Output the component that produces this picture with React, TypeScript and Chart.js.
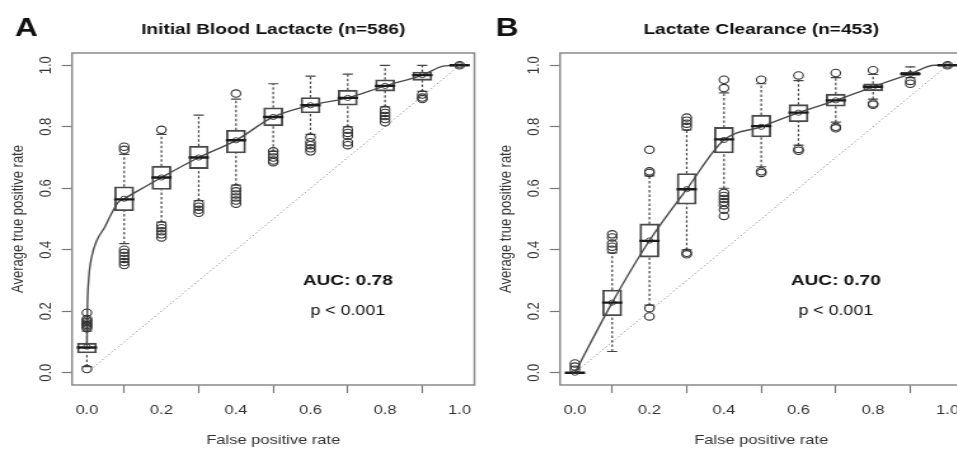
import React, { useEffect, useRef } from 'react';
import { Chart, registerables } from 'chart.js';

Chart.register(...registerables);
Chart.defaults.font.family = "'Liberation Sans', Arial, Helvetica, sans-serif";

// ---------- shared ----------
const FPR = [0, 0.1, 0.2, 0.3, 0.4, 0.5, 0.6, 0.7, 0.8, 0.9, 1.0];
const AXIS_TICKS = [0, 0.2, 0.4, 0.6, 0.8, 1.0];
const X_LABEL = 'False positive rate';
const Y_LABEL = 'Average true positive rate';

// ---------- Panel A : Initial Blood Lactate ----------
const A_LETTER = 'A';
const A_TITLE = 'Initial Blood Lactacte (n=586)';
const A_AUC = 'AUC: 0.78';
const A_P = 'p < 0.001';
const A_WHISK_LO = [0.02, 0.42, 0.49, 0.56, 0.61, 0.72, 0.775, 0.80, 0.865, 0.915, 1.0];
const A_Q1 = [0.064, 0.527, 0.596, 0.664, 0.715, 0.803, 0.845, 0.870, 0.916, 0.951, 1.0];
const A_MED = [0.082, 0.564, 0.635, 0.700, 0.756, 0.832, 0.870, 0.894, 0.933, 0.968, 1.0];
const A_Q3 = [0.096, 0.605, 0.672, 0.737, 0.789, 0.862, 0.895, 0.919, 0.953, 0.978, 1.0];
const A_WHISK_HI = [0.135, 0.71, 0.775, 0.838, 0.89, 0.94, 0.965, 0.971, 1.0, 1.0, 1.0];
const A_MEAN = [0.085, 0.566, 0.635, 0.700, 0.756, 0.832, 0.870, 0.894, 0.933, 0.968, 1.0];
const A_OUTLIERS = [
  [0.012, 0.145, 0.15, 0.155, 0.16, 0.165, 0.17, 0.175, 0.195],
  [0.35, 0.36, 0.37, 0.38, 0.39, 0.40, 0.725, 0.735],
  [0.44, 0.45, 0.46, 0.47, 0.48, 0.79],
  [0.52, 0.53, 0.54, 0.55],
  [0.55, 0.56, 0.57, 0.58, 0.59, 0.60, 0.908],
  [0.685, 0.69, 0.70, 0.71, 0.72],
  [0.72, 0.73, 0.74, 0.75, 0.765],
  [0.74, 0.75, 0.77, 0.78, 0.79],
  [0.815, 0.825, 0.835, 0.845, 0.855],
  [0.89, 0.895, 0.905],
  [1.0],
];
const A_CURVE_X = [0, 0.001, 0.0045, 0.013, 0.0265, 0.0485, 0.066, 0.084, 0.1, 0.2, 0.3, 0.4, 0.5, 0.6, 0.7, 0.8, 0.9, 0.96, 1.0];
const A_CURVE_Y = [0.085, 0.2, 0.3, 0.378, 0.43, 0.475, 0.518, 0.555, 0.566, 0.635, 0.70, 0.756, 0.832, 0.870, 0.894, 0.933, 0.968, 0.998, 1.0];

// ---------- Panel B : Lactate Clearance ----------
const B_LETTER = 'B';
const B_TITLE = 'Lactate Clearance (n=453)';
const B_AUC = 'AUC: 0.70';
const B_P = 'p < 0.001';
const B_WHISK_LO = [0.0, 0.069, 0.22, 0.40, 0.60, 0.67, 0.74, 0.815, 0.89, 0.96, 1.0];
const B_Q1 = [0.0, 0.185, 0.376, 0.548, 0.715, 0.767, 0.816, 0.867, 0.917, 0.967, 1.0];
const B_MED = [0.0, 0.228, 0.429, 0.597, 0.759, 0.802, 0.846, 0.886, 0.930, 0.972, 1.0];
const B_Q3 = [0.0, 0.269, 0.484, 0.648, 0.798, 0.838, 0.872, 0.906, 0.940, 0.977, 1.0];
const B_WHISK_HI = [0.0, 0.39, 0.64, 0.79, 0.91, 0.94, 0.95, 0.96, 0.97, 0.995, 1.0];
const B_MEAN = [0.0, 0.228, 0.43, 0.597, 0.757, 0.80, 0.846, 0.886, 0.930, 0.972, 1.0];
const B_OUTLIERS = [
  [0.01, 0.02, 0.03],
  [0.40, 0.41, 0.42, 0.44, 0.45],
  [0.183, 0.21, 0.65, 0.655, 0.725],
  [0.385, 0.39, 0.80, 0.81, 0.82, 0.83],
  [0.51, 0.53, 0.545, 0.555, 0.565, 0.575, 0.585, 0.926, 0.953],
  [0.65, 0.655, 0.953],
  [0.722, 0.728, 0.967],
  [0.795, 0.80, 0.975],
  [0.872, 0.876, 0.984],
  [0.94, 0.949],
  [1.0],
];
const B_CURVE_X = [0, 0.1, 0.2, 0.3, 0.4, 0.5, 0.6, 0.7, 0.8, 0.9, 0.965, 1.0];
const B_CURVE_Y = [0.0, 0.228, 0.43, 0.597, 0.757, 0.80, 0.846, 0.886, 0.930, 0.972, 1.0, 1.0];

// ---------- layout (screen px; canvas is stretched horizontally) ----------
const SX = 1.27;
const CANVAS_W = 384;
const CANVAS_H = 453;
const AREA_LEFT = 72 / SX;
const AREA_RIGHT = 479 / SX;
const AREA_TOP = 53;
const AREA_BOTTOM = 385;

type PanelCfg = {
  letter: string; letterX: number; title: string; auc: string; p: string;
  lo: number[]; q1: number[]; med: number[]; q3: number[]; hi: number[]; mean: number[];
  outliers: number[][]; curveX: number[]; curveY: number[];
};

const PANEL_A: PanelCfg = {
  letter: A_LETTER, letterX: 11.8, title: A_TITLE, auc: A_AUC, p: A_P,
  lo: A_WHISK_LO, q1: A_Q1, med: A_MED, q3: A_Q3, hi: A_WHISK_HI, mean: A_MEAN,
  outliers: A_OUTLIERS, curveX: A_CURVE_X, curveY: A_CURVE_Y,
};
const PANEL_B: PanelCfg = {
  letter: B_LETTER, letterX: 6, title: B_TITLE, auc: B_AUC, p: B_P,
  lo: B_WHISK_LO, q1: B_Q1, med: B_MED, q3: B_Q3, hi: B_WHISK_HI, mean: B_MEAN,
  outliers: B_OUTLIERS, curveX: B_CURVE_X, curveY: B_CURVE_Y,
};

const decorPlugin = {
  id: 'panelDecor',
  beforeDatasetsDraw(chart: any) {
    const { ctx, chartArea } = chart;
    ctx.save();
    ctx.strokeStyle = '#8a8a8a';
    ctx.lineWidth = 1.5;
    ctx.strokeRect(chartArea.left, chartArea.top, chartArea.right - chartArea.left, chartArea.bottom - chartArea.top);
    ctx.restore();
  },
  afterDraw(chart: any, _args: any, opts: any) {
    const { ctx, chartArea, scales } = chart;
    ctx.save();
    ctx.fillStyle = '#111';
    ctx.textBaseline = 'alphabetic';
    ctx.textAlign = 'left';
    ctx.font = "bold 25px 'Liberation Sans', Arial, sans-serif";
    ctx.fillText(opts.letter, opts.letterX, 36);
    ctx.textAlign = 'center';
    ctx.textBaseline = 'middle';
    ctx.font = "bold 15px 'Liberation Sans', Arial, sans-serif";
    ctx.fillText(opts.title, (chartArea.left + chartArea.right) / 2, 30);
    const tx = scales.x.getPixelForValue(0.7);
    ctx.font = "bold 15px 'Liberation Sans', Arial, sans-serif";
    ctx.fillText(opts.auc, tx, scales.y.getPixelForValue(0.3));
    ctx.font = "14px 'Liberation Sans', Arial, sans-serif";
    ctx.fillText(opts.p, tx, scales.y.getPixelForValue(0.2));
    ctx.restore();
  },
};

function buildConfig(p: PanelCfg): any {
  const whiskers: any[] = [];
  const caps: any[] = [];
  FPR.forEach((x, i) => {
    if (p.lo[i] < p.q1[i]) {
      whiskers.push({ x, y: p.lo[i] }, { x, y: p.q1[i] }, { x, y: null });
      caps.push({ x, y: p.lo[i] });
    }
    if (p.hi[i] > p.q3[i]) {
      whiskers.push({ x, y: p.q3[i] }, { x, y: p.hi[i] }, { x, y: null });
      caps.push({ x, y: p.hi[i] });
    }
  });
  const outlierPts: any[] = [];
  FPR.forEach((x, i) => p.outliers[i].forEach((y) => outlierPts.push({ x, y })));

  const axisCommon = (label: string, isY: boolean) => ({
    type: 'linear',
    min: -0.04,
    max: 1.04,
    offset: false,
    afterBuildTicks: (scale: any) => {
      scale.ticks = AXIS_TICKS.map((v) => ({ value: v }));
    },
    afterFit: (scale: any) => {
      if (isY) scale.width = AREA_LEFT;
      else scale.height = CANVAS_H - AREA_BOTTOM;
    },
    grid: { display: true, drawOnChartArea: false, drawTicks: true, tickLength: 8, tickColor: '#777', tickWidth: 1.2 },
    border: { display: false },
    ticks: {
      autoSkip: false,
      color: '#333',
      font: { size: 13 },
      padding: isY ? 3 : 10,
      minRotation: isY ? 90 : 0,
      maxRotation: isY ? 90 : 0,
      crossAlign: isY ? 'center' : 'near',
      callback: (v: any) => Number(v).toFixed(1),
    },
    title: {
      display: true,
      text: label,
      color: '#333',
      font: { size: 13 },
      padding: isY ? { top: 7, bottom: 0 } : { top: 0, bottom: 5 },
    },
  });

  return {
    type: 'scatter',
    data: {
      datasets: [
        {
          type: 'line', order: 9,
          data: [{ x: 0, y: 0 }, { x: 1, y: 1 }],
          borderColor: '#9a9a9a', borderWidth: 1, borderDash: [1.5, 2], pointRadius: 0,
        },
        {
          type: 'line', order: 8,
          data: whiskers, spanGaps: false,
          borderColor: '#444', borderWidth: 1.2, borderDash: [2.5, 2], pointRadius: 0,
        },
        {
          type: 'scatter', order: 7,
          data: caps, pointStyle: 'line', pointRadius: 4, pointBorderWidth: 1.2,
          borderColor: '#444', pointBorderColor: '#444',
        },
        {
          type: 'bar', order: 6,
          data: FPR.map((x, i) => ({ x, y: [p.q1[i], p.q3[i]] })),
          barThickness: 15, borderWidth: 1.2, borderColor: '#4a4a4a',
          backgroundColor: 'rgba(255,255,255,0)', borderSkipped: false,
        },
        {
          type: 'line', order: 5,
          data: p.curveX.map((x, i) => ({ x, y: p.curveY[i] })),
          cubicInterpolationMode: 'monotone',
          borderColor: '#4a4a4a', borderWidth: 1.4, pointRadius: 0,
        },
        {
          type: 'scatter', order: 4,
          data: FPR.map((x, i) => ({ x, y: p.mean[i] })),
          pointStyle: 'circle', pointRadius: 2.6, pointBorderWidth: 1,
          borderColor: '#444', pointBorderColor: '#444',
          backgroundColor: 'rgba(0,0,0,0)', pointBackgroundColor: 'rgba(0,0,0,0)',
        },
        {
          type: 'scatter', order: 3,
          data: FPR.map((x, i) => ({ x, y: p.med[i] })),
          pointStyle: 'line', pointRadius: 8, pointBorderWidth: 2.4,
          borderColor: '#1a1a1a', pointBorderColor: '#1a1a1a',
        },
        {
          type: 'scatter', order: 2,
          data: outlierPts,
          pointStyle: 'circle', pointRadius: 3.7, pointBorderWidth: 1.1,
          borderColor: '#333', pointBorderColor: '#333',
          backgroundColor: 'rgba(0,0,0,0)', pointBackgroundColor: 'rgba(0,0,0,0)',
        },
      ],
    },
    options: {
      animation: false,
      responsive: false,
      events: [],
      layout: { padding: { top: AREA_TOP, right: CANVAS_W - AREA_RIGHT, bottom: 0, left: 0 } },
      scales: {
        x: axisCommon(X_LABEL, false),
        y: axisCommon(Y_LABEL, true),
      },
      plugins: {
        legend: { display: false },
        tooltip: { enabled: false },
        panelDecor: { letter: p.letter, letterX: p.letterX, title: p.title, auc: p.auc, p: p.p },
      },
    },
    plugins: [decorPlugin],
  };
}

function Panel({ cfg, left }: { cfg: PanelCfg; left: number }) {
  const ref = useRef<HTMLCanvasElement>(null);
  useEffect(() => {
    const chart = new Chart(ref.current as HTMLCanvasElement, buildConfig(cfg));
    return () => chart.destroy();
  }, [cfg]);
  return (
    <canvas
      ref={ref}
      width={CANVAS_W}
      height={CANVAS_H}
      style={{
        position: 'absolute', left, top: 0, display: 'block',
        transform: `scaleX(${SX})`, transformOrigin: '0 0',
      }}
    />
  );
}

export default function App() {
  return (
    <div
      style={{
        position: 'absolute', left: 0, top: 0, width: 957, height: 453,
        overflow: 'hidden', background: '#fff',
      }}
    >
      <Panel cfg={PANEL_A} left={0} />
      <Panel cfg={PANEL_B} left={488} />
    </div>
  );
}
